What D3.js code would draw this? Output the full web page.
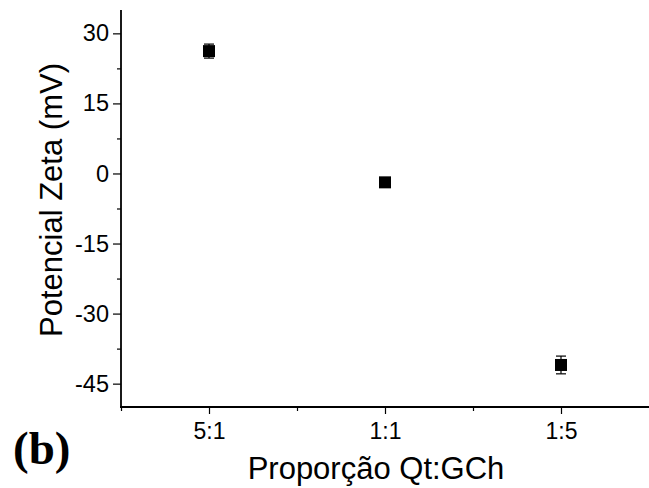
<!DOCTYPE html>
<html><head><meta charset="utf-8">
<script src="https://cdn.jsdelivr.net/npm/d3@7"></script>
<style>body{margin:0;background:#fff}svg{display:block}</style>
</head><body>
<svg id="c" width="649" height="488"></svg>
<script>
const categories = ["5:1", "1:1", "1:5"];
const values = [26.2, -1.9, -41.0];
const errors = [1.5, 0.6, 1.9];
const yTicks = [-45, -30, -15, 0, 15, 30];
const yMinorTicks = [-37.5, -22.5, -7.5, 7.5, 22.5];
const xTitle = "Proporção Qt:GCh";
const yTitle = "Potencial Zeta (mV)";
const panelLabel = "(b)";

const svg = d3.select("#c");
const L = 121, R = 649, T = 10, B = 407;
const x = d3.scaleLinear().domain([0.5, 3.5]).range([L, R]);
const y = d3.scaleLinear().domain([-50, 35]).range([B, T]);
const font = "'Liberation Sans', Arial, sans-serif";

// Y axis
const yAxis = svg.append("g").attr("transform", `translate(${L},0)`)
  .call(d3.axisLeft(y).tickValues(yTicks).tickSize(8).tickPadding(4).tickFormat(d => String(d)));
yAxis.select(".domain").remove();
yAxis.selectAll("text").attr("font-family", font).attr("font-size", 23.5).attr("fill", "#000");
yAxis.selectAll("line").attr("stroke", "#000").attr("stroke-width", 1.2);
svg.append("g").attr("transform", `translate(${L},0)`)
  .call(d3.axisLeft(y).tickValues(yMinorTicks).tickSize(4).tickFormat(""))
  .call(g => g.select(".domain").remove())
  .selectAll("line").attr("stroke", "#000").attr("stroke-width", 1.2);

// X axis
const xAxis = svg.append("g").attr("transform", `translate(0,${B})`)
  .call(d3.axisBottom(x).tickValues([1, 2, 3]).tickSize(7).tickPadding(9).tickFormat((d, i) => categories[i]));
xAxis.select(".domain").remove();
xAxis.selectAll("text").attr("font-family", font).attr("font-size", 23).attr("fill", "#000");
xAxis.selectAll("line").attr("stroke", "#000").attr("stroke-width", 1.2);
svg.append("g").attr("transform", `translate(0,${B})`)
  .call(d3.axisBottom(x).tickValues([0.5, 1.5, 2.5]).tickSize(4).tickFormat(""))
  .call(g => g.select(".domain").remove())
  .selectAll("line").attr("stroke", "#000").attr("stroke-width", 1.2);

// axis lines
svg.append("line").attr("x1", L).attr("x2", L).attr("y1", T).attr("y2", B + 1)
  .attr("stroke", "#000").attr("stroke-width", 1.8);
svg.append("line").attr("x1", L - 1).attr("x2", R).attr("y1", B).attr("y2", B)
  .attr("stroke", "#000").attr("stroke-width", 1.8);

// error bars + markers
const data = categories.map((c, i) => ({ c, i: i + 1, v: values[i], e: errors[i] }));
const eb = svg.append("g").attr("stroke", "#000").attr("stroke-width", 1.2);
data.forEach(d => {
  const cx = x(d.i);
  eb.append("line").attr("x1", cx).attr("x2", cx).attr("y1", y(d.v - d.e)).attr("y2", y(d.v + d.e));
  eb.append("line").attr("x1", cx - 5).attr("x2", cx + 5).attr("y1", y(d.v - d.e)).attr("y2", y(d.v - d.e));
  eb.append("line").attr("x1", cx - 5).attr("x2", cx + 5).attr("y1", y(d.v + d.e)).attr("y2", y(d.v + d.e));
});
const s = 12;
svg.append("g").selectAll("rect").data(data).join("rect")
  .attr("x", d => x(d.i) - s / 2).attr("y", d => y(d.v) - s / 2)
  .attr("width", s).attr("height", s).attr("fill", "#000");

// titles
svg.append("text").attr("x", 376).attr("y", 479).attr("text-anchor", "middle")
  .attr("font-family", font).attr("font-size", 31).text(xTitle);
svg.append("text").attr("transform", "translate(62,200) rotate(-90)").attr("text-anchor", "middle")
  .attr("font-family", font).attr("font-size", 31).text(yTitle);
svg.append("text").attr("x", 13).attr("y", 464)
  .attr("font-family", "'Liberation Serif', 'Times New Roman', serif").attr("font-weight", "bold")
  .attr("font-size", 47).text(panelLabel);
</script>
</body></html>
